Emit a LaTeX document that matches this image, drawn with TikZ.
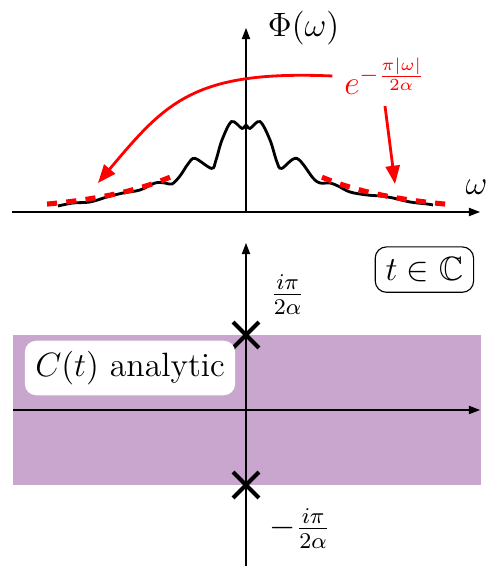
\documentclass[tikz,border=0pt,12pt]{standalone}
\usepackage{amsmath,amssymb}
\usetikzlibrary{arrows.meta,shapes.misc}
\definecolor{mypurple}{RGB}{200,166,205}
\definecolor{myred}{RGB}{255,0,0}

\begin{document}
\begin{tikzpicture}[x=0.5cm,y=0.5cm,
  axis/.style={-{Triangle[length=4pt,width=3pt]},black},
  arrow/.style={-{Triangle[length=6.5pt,width=5pt]},line width=1pt,myred},
  envl/.style={myred,line width=1.8pt,dash pattern=on 3.6pt off 3.3pt},
  pole/.style={cross out,draw,line width=1.4pt,minimum size=0.275cm,inner sep=0pt},
  lbl/.style={rectangle,rounded corners=4pt,inner sep=3.7pt}]
\useasboundingbox (-6.15,-8.85) rectangle (6.125,5.3);
% spectrum
\coordinate (wl) at (-5.85,0);
\coordinate (wr) at (5.85,0);
\coordinate (o1) at (0,0);
\coordinate (phitop) at (0,4.6);
\draw[axis] (wl) -- (wr);
\draw[axis] (o1) -- (phitop);
\node (phi) at (1.44,4.59) {$\Phi(\omega)$};
\node (om) at (5.76,0.625) {$\omega$};
\draw[line width=1pt] plot[smooth,tension=0.55] coordinates {
  (-4.7,0.15) (-4.325,0.225) (-3.9,0.25) (-3.475,0.375) (-3.075,0.475)
  (-2.65,0.55) (-2.275,0.725) (-2.025,0.725) (-1.85,0.7) (-1.65,0.9)
  (-1.45,1.2) (-1.275,1.34) (-0.86,1.09) (-0.75,1.3) (-0.6,1.8)
  (-0.36,2.26) (-0.1,2.09) (0,2.175) (0.1,2.09) (0.35,2.26) (0.6,1.8)
  (0.77,1.26) (0.89,1.09) (1.27,1.34) (1.675,0.85) (1.85,0.725)
  (2.1,0.725) (2.3,0.65) (2.6,0.5) (3.025,0.425) (3.35,0.4)
  (3.675,0.35) (4.1,0.25) (4.525,0.2) (4.675,0.175)};
\draw[envl] plot[domain=-4.975:-1.9,samples=30] (\x,{2.175*exp(\x/2.075)});
\draw[envl] plot[domain=1.9:5.025,samples=30] (\x,{2.175*exp(-\x/2.075)});
\node[text=myred] (expl) at (3.475,3.4) {$e^{-\frac{\pi|\omega|}{2\alpha}}$};
\coordinate (tipl) at (-3.7,0.725);
\coordinate (tipr) at (3.725,0.7);
\draw[arrow] (expl.west) .. controls (-1.3,3.55) and (-2.0,2.75) .. (tipl);
\draw[arrow] (expl.south) -- (tipr);
% complex plane
\fill[mypurple] (-5.825,-3.075) rectangle (5.875,-6.825);
\coordinate (tl) at (-5.825,-4.95);
\coordinate (tr) at (5.85,-4.95);
\coordinate (tb) at (0,-8.85);
\coordinate (tt) at (0,-0.775);
\draw[axis] (tl) -- (tr);
\draw[axis] (tb) -- (tt);
\node[pole] (pu) at (0,-3.075) {};
\node[pole] (pd) at (0,-6.825) {};
\node (lu) at (1.04,-2.075) {$\frac{i\pi}{2\alpha}$};
\node (ld) at (1.35,-7.91) {$-\frac{i\pi}{2\alpha}$};
\node[lbl,draw] (tc) at (4.46,-1.44) {$t\in\mathbb{C}$};
\node[lbl,fill=white] (an) at (-2.9,-3.9) {$C(t)$ analytic};
\end{tikzpicture}
\end{document}
